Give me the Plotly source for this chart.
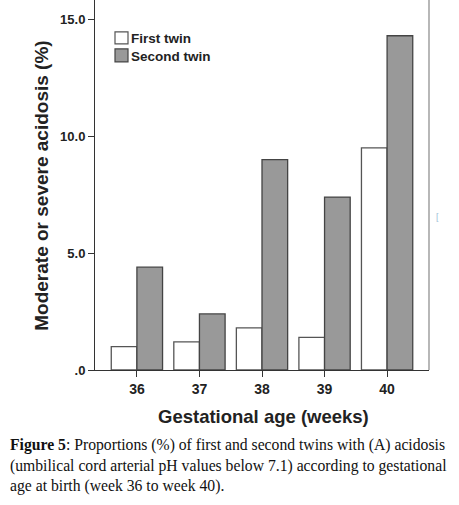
import plotly.graph_objects as go

weeks = ["36", "37", "38", "39", "40"]
first_twin = [1.0, 1.2, 1.8, 1.4, 9.5]
second_twin = [4.4, 2.4, 9.0, 7.4, 14.3]
y_ticks = [0, 5, 10, 15]
y_tick_labels = [".0", "5.0", "10.0", "15.0"]

W, H = 459, 505
L, R, T, B = 95, 30, 0, 134.5
PW, PH = W - L - R, H - T - B


def px(x):
    return (x - L) / PW


def py(y):
    return (H - B - y) / PH


fig = go.Figure()
fig.add_trace(go.Bar(x=weeks, y=first_twin, name="First twin", showlegend=False,
                     marker=dict(color="white", line=dict(color="#555555", width=1.3))))
fig.add_trace(go.Bar(x=weeks, y=second_twin, name="Second twin", showlegend=False,
                     marker=dict(color="#999999", line=dict(color="#444444", width=1.3))))

fig.update_layout(
    width=W, height=H,
    margin=dict(l=L, r=R, t=T, b=B, pad=0),
    paper_bgcolor="white", plot_bgcolor="white",
    barmode="group", bargap=0.18, bargroupgap=0,
    font=dict(family="Liberation Sans, Arial", color="#222222"),
    xaxis=dict(range=[-0.67, 4.67], showline=True, linecolor="#333333", linewidth=1,
               ticks="outside", ticklen=6, tickcolor="#333333", automargin=False,
               tickvals=weeks, ticktext=["<b>%s</b>" % w for w in weeks],
               tickfont=dict(size=14, family="Liberation Sans, Arial", color="#222222"),
               showgrid=False, zeroline=False),
    yaxis=dict(range=[0, 15.83], showline=True, linecolor="#333333", linewidth=1,
               ticks="outside", ticklen=6, tickcolor="#333333", automargin=False,
               tickvals=y_ticks, ticktext=["<b>%s</b>" % t for t in y_tick_labels],
               tickfont=dict(size=13, family="Liberation Sans, Arial", color="#222222"),
               showgrid=False, zeroline=False),
)

# axis titles
fig.add_annotation(xref="paper", yref="paper", x=px(263.5), y=py(417),
                   xanchor="center", yanchor="middle", showarrow=False,
                   text="<b>Gestational age (weeks)</b>",
                   font=dict(size=18.5, family="Liberation Sans, Arial", color="#222222"))
fig.add_annotation(xref="paper", yref="paper", x=px(42), y=py(186),
                   xanchor="center", yanchor="middle", showarrow=False, textangle=-90,
                   text="<b>Moderate or severe acidosis (%)</b>",
                   font=dict(size=19, family="Liberation Sans, Arial", color="#222222"))

# right frame line
fig.add_shape(type="line", xref="paper", yref="paper", x0=1, x1=1, y0=0, y1=1,
              line=dict(color="#888888", width=1.2))

# legend
legend_items = [("First twin", "white", "#555555", 32, 44, 39),
                ("Second twin", "#999999", "#444444", 49, 62, 56.5)]
for name, fill, edge, y0, y1, yc in legend_items:
    fig.add_shape(type="rect", xref="paper", yref="paper", x0=px(115), x1=px(128),
                  y0=py(y1), y1=py(y0), fillcolor=fill, line=dict(color=edge, width=1.2))
    fig.add_annotation(xref="paper", yref="paper", x=px(129), y=py(yc), xanchor="left",
                       yanchor="middle", showarrow=False, text="<b>%s</b>" % name,
                       font=dict(size=13.5, family="Liberation Sans, Arial", color="#222222"))

fig.add_annotation(xref="paper", yref="paper", x=px(434), y=py(217), text="[",
                   showarrow=False, font=dict(size=9, color="#9fc0d8"), xanchor="left")

caption = [
    "<b>Figure 5</b>: Proportions (%) of first and second twins with (A) acidosis",
    "(umbilical cord arterial pH values below 7.1) according to gestational",
    "age at birth (week 36 to week 40).",
]
for i, line in enumerate(caption):
    fig.add_annotation(xref="paper", yref="paper", x=px(8), y=py(446 + i * 20.5),
                       xanchor="left", yanchor="middle", text=line, showarrow=False,
                       font=dict(size=15.7, family="Liberation Serif, Times New Roman", color="#111111"))

fig.write_html("out.html", config={"displayModeBar": False},
               post_script="document.body.style.margin='0px';")
